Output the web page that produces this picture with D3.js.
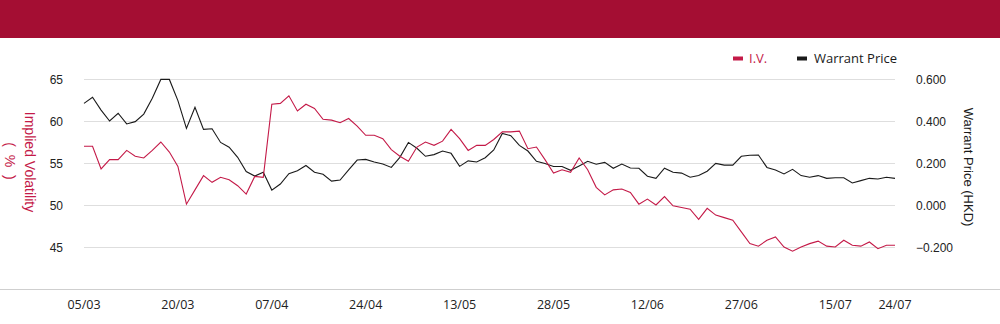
<!DOCTYPE html>
<html>
<head>
<meta charset="utf-8">
<script src="https://cdn.jsdelivr.net/npm/d3@7"></script>
<style>
  html, body { margin: 0; padding: 0; background: #fff; }
  svg { display: block; }
  .tick-y { font: 12px Arial, "Liberation Sans", sans-serif; fill: #222; }
  .tick-x { font: 12.5px "Open Sans", "Noto Sans", sans-serif; fill: #222; }
  .legend { font: 13px "Open Sans", "Noto Sans", sans-serif; }
  .ttl { font: 13px Arial, "Liberation Sans", sans-serif; }
  .ttl-l { font: 14px Arial, "Liberation Sans", sans-serif; }
</style>
</head>
<body>
<div id="chart"></div>
<script>
/* implied volatility vs warrant price, dual axis */

const IV = [
  57.0, 57.0, 54.3, 55.4, 55.4, 56.5, 55.8, 55.6, 56.5, 57.5,
  56.3, 54.6, 50.1, 51.8, 53.5, 52.7, 53.3, 53.0, 52.3, 51.3,
  53.4, 53.3, 62.0, 62.1, 63.0, 61.2, 62.0, 61.5, 60.2, 60.1,
  59.8, 60.3, 59.4, 58.3, 58.3, 57.9, 56.6, 55.8, 55.2, 56.9,
  57.5, 57.1, 57.6, 59.0, 57.9, 56.5, 57.1, 57.1, 57.8, 58.7,
  58.7, 58.8, 56.7, 56.9, 55.4, 53.8, 54.2, 53.9, 55.6, 54.2,
  52.1, 51.2, 51.8, 51.9, 51.5, 50.1, 50.7, 50.0, 51.0, 49.9,
  49.7, 49.5, 48.3, 49.6, 48.8, 48.5, 48.2, 46.8, 45.4, 45.1,
  45.8, 46.2, 45.0, 44.5, 45.0, 45.4, 45.7, 45.1, 45.0, 45.8,
  45.2, 45.1, 45.6, 44.8, 45.2, 45.2
];

const PRICE = [
  0.484, 0.513, 0.452, 0.400, 0.437, 0.386, 0.397, 0.433, 0.508, 0.598,
  0.598, 0.497, 0.365, 0.465, 0.360, 0.363, 0.298, 0.275, 0.227, 0.159,
  0.138, 0.156, 0.071, 0.100, 0.149, 0.163, 0.188, 0.156, 0.146, 0.114,
  0.119, 0.167, 0.214, 0.217, 0.205, 0.195, 0.179, 0.227, 0.298, 0.270,
  0.232, 0.240, 0.257, 0.246, 0.184, 0.210, 0.205, 0.225, 0.262, 0.341,
  0.330, 0.284, 0.257, 0.208, 0.198, 0.183, 0.183, 0.165, 0.186, 0.208,
  0.194, 0.203, 0.175, 0.195, 0.176, 0.175, 0.137, 0.127, 0.175, 0.156,
  0.152, 0.132, 0.140, 0.161, 0.198, 0.190, 0.190, 0.232, 0.237, 0.238,
  0.179, 0.167, 0.148, 0.170, 0.140, 0.132, 0.140, 0.127, 0.130, 0.130,
  0.105, 0.116, 0.127, 0.124, 0.132, 0.127
];

// which trading-day index each date label sits on
const X_TICK_IDX = [0, 11, 22, 33, 44, 55, 66, 77, 88, 95];
const X_TICK_LABELS = ['05/03', '20/03', '07/04', '24/04', '13/05', '28/05', '12/06', '27/06', '15/07', '24/07'];

const IV_DOMAIN = [40, 65];
const IV_TICKS = [45, 50, 55, 60, 65];
const PRICE_DOMAIN = [-0.4, 0.6];
const PRICE_TICKS = [-0.2, 0, 0.2, 0.4, 0.6];

const RED = '#C41A48';
const HEAD = '#A40E33';
const INK = '#1A1A1A';
const GRID = '#DEDEDE';

const W = 1000, H = 324;
const M = { top: 79, bottom: 289, left: 84, right: 895 };

const svg = d3.select('#chart').append('svg')
  .attr('width', W).attr('height', H)
  .attr('viewBox', `0 0 ${W} ${H}`);

// header band
svg.append('rect').attr('x', 0).attr('y', 0).attr('width', W).attr('height', 38).attr('fill', HEAD);

const x = d3.scalePoint().domain(d3.range(IV.length)).range([M.left, M.right]);
const yL = d3.scaleLinear().domain(IV_DOMAIN).range([M.bottom, M.top]);
const yR = d3.scaleLinear().domain(PRICE_DOMAIN).range([M.bottom, M.top]);

// grid
svg.append('g').selectAll('line').data(IV_TICKS).join('line')
  .attr('x1', M.left).attr('x2', M.right)
  .attr('y1', (d) => yL(d) + 0.5).attr('y2', (d) => yL(d) + 0.5)
  .attr('stroke', GRID).attr('stroke-width', 1);

// baseline across the full width
svg.append('line')
  .attr('x1', 0).attr('x2', W)
  .attr('y1', M.bottom + 0.5).attr('y2', M.bottom + 0.5)
  .attr('stroke', '#CFCFCF').attr('stroke-width', 1);

// left ticks
svg.append('g').selectAll('text').data(IV_TICKS).join('text')
  .attr('class', 'tick-y')
  .attr('x', 63).attr('y', (d) => yL(d) + 4.5)
  .attr('text-anchor', 'end')
  .text((d) => d);

// right ticks
svg.append('g').selectAll('text').data(PRICE_TICKS).join('text')
  .attr('class', 'tick-y')
  .attr('x', 916).attr('y', (d) => yR(d) + 4.5)
  .attr('text-anchor', 'start')
  .text((d) => d3.format('.3f')(d));

// x labels
svg.append('g').selectAll('text').data(X_TICK_IDX).join('text')
  .attr('class', 'tick-x')
  .attr('x', (d) => x(d)).attr('y', 309)
  .attr('text-anchor', 'middle')
  .text((d, i) => X_TICK_LABELS[i]);

// axis titles
const lt = svg.append('text').attr('class', 'ttl-l').attr('fill', RED)
  .attr('transform', 'translate(25,162) rotate(90)')
  .attr('text-anchor', 'middle');
lt.append('tspan').attr('x', 0).attr('dy', 0).text('Implied Volatility');
lt.append('tspan').attr('x', 0).attr('dy', 20).attr('letter-spacing', 2).text('( % )');

svg.append('text').attr('class', 'ttl').attr('fill', INK)
  .attr('transform', 'translate(964,167) rotate(90)')
  .attr('text-anchor', 'middle')
  .text('Warrant Price (HKD)');

// lines
const ivLine = d3.line().x((d, i) => x(i)).y((d) => yL(d));
const pxLine = d3.line().x((d, i) => x(i)).y((d) => yR(d));

svg.append('path').datum(PRICE).attr('d', pxLine)
  .attr('fill', 'none').attr('stroke', INK).attr('stroke-width', 1.1);
svg.append('path').datum(IV).attr('d', ivLine)
  .attr('fill', 'none').attr('stroke', RED).attr('stroke-width', 1.1);

// legend
const lg = svg.append('g').attr('class', 'legend');
lg.append('rect').attr('x', 733).attr('y', 56.5).attr('width', 10).attr('height', 4).attr('fill', RED);
lg.append('text').attr('x', 749).attr('y', 63).attr('fill', RED).text('I.V.');
lg.append('rect').attr('x', 797).attr('y', 56.5).attr('width', 10).attr('height', 4).attr('fill', INK);
lg.append('text').attr('x', 814).attr('y', 63).attr('fill', INK).text('Warrant Price');
</script>
</body>
</html>
